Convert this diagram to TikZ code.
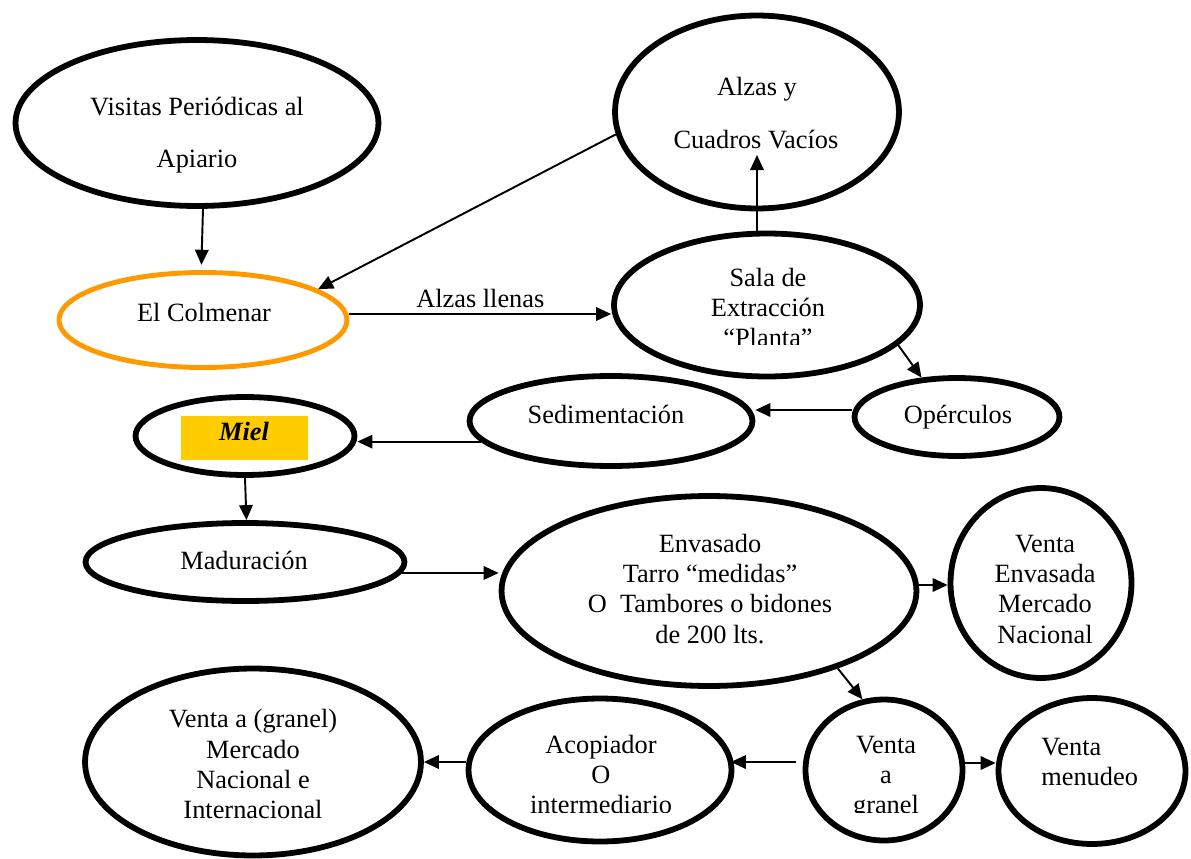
\documentclass[tikz,border=0pt]{standalone}
\usepackage{fontspec}
\setmainfont{Liberation Serif}
\usetikzlibrary{shapes.geometric,arrows.meta}
\definecolor{hiveorange}{RGB}{255,153,0}
\definecolor{honeyyellow}{RGB}{255,204,0}
\begin{document}
\begin{tikzpicture}[x=0.02cm,y=-0.02cm,
  ell/.style={ellipse,draw=black,line width=3.3pt,inner sep=0pt,fill=white},
  lbl/.style={anchor=base,inner sep=0pt,font=\fontsize{15}{18}\selectfont},
  arr/.style={line width=1.1pt,-{Triangle[length=0.30cm,width=0.27cm]}}]
\useasboundingbox (0,0) rectangle (1191,859);

% --- process stages (ellipses) ---
\node[ell,minimum width=7.26cm,minimum height=3.32cm] (visitas) at (197,123) {};
\node[ell,minimum width=5.68cm,minimum height=3.86cm] (alzas) at (757,112) {};
\node[ell,draw=hiveorange,line width=2.8pt,minimum width=5.76cm,minimum height=1.90cm] (colmenar) at (203,320) {};
\node[ell,minimum width=6.12cm,minimum height=2.86cm] (sala) at (767,305) {};
\node[ell,minimum width=4.10cm,minimum height=1.56cm] (operc) at (957,417) {};
\node[ell,minimum width=5.66cm,minimum height=1.80cm] (sedim) at (611,421) {};
\node[ell,minimum width=4.38cm,minimum height=1.56cm] (miel) at (245,436) {};
\node[ell,minimum width=6.38cm,minimum height=1.56cm] (madur) at (245,562) {};
\node[ell,minimum width=8.30cm,minimum height=3.80cm] (envas) at (709,591) {};
\node[ell,minimum width=3.62cm,minimum height=3.80cm] (venv) at (1041,583) {};
\node[ell,minimum width=6.72cm,minimum height=3.74cm] (vgm) at (253,762) {};
\node[ell,minimum width=5.26cm,minimum height=2.86cm] (acop) at (600,770) {};
\node[ell,minimum width=3.14cm,minimum height=2.82cm] (granel) at (884,770) {};
\node[ell,minimum width=3.74cm,minimum height=2.92cm] (menud) at (1092,771) {};

% honey highlight box
\node[fill=honeyyellow,inner sep=0pt,minimum width=2.54cm,minimum height=0.88cm] (mielbox) at (244.5,438) {};

% --- texts ---
\node[lbl] (t1a) at (197,115) {Visitas Periódicas al};
\node[lbl] (t1b) at (197,167) {Apiario};
\node[lbl] (t2a) at (757,95) {Alzas y};
\node[lbl] (t2b) at (756,148) {Cuadros Vacíos};
\node[lbl] (t3) at (204,321) {El Colmenar};
\node[lbl] (t4a) at (768,286) {Sala de};
\node[lbl] (t4b) at (768,316) {Extracción};
\begin{scope}
  \clip (650,320) rectangle (890,344);
  \node[lbl] (t4c) at (768,346) {“Planta”};
\end{scope}
\node[lbl] (t5) at (958,423) {Opérculos};
\node[lbl] (t6) at (606,423) {Sedimentación};
\node[lbl,font=\fontsize{15}{18}\selectfont\bfseries\itshape] (t7) at (244,440) {Miel};
\node[lbl] (t8) at (244,569) {Maduración};
\node[lbl] (t9a) at (710,552) {Envasado};
\node[lbl] (t9b) at (710,582) {Tarro “medidas”};
\node[lbl] (t9c) at (710,612) {O\ \ Tambores o bidones};
\node[lbl] (t9d) at (710,643) {de 200 lts.};
\node[lbl] (t10a) at (1045,552) {Venta};
\node[lbl] (t10b) at (1045,582) {Envasada};
\node[lbl] (t10c) at (1045,612) {Mercado};
\node[lbl] (t10d) at (1045,643) {Nacional};
\node[lbl] (t11a) at (253,727) {Venta a (granel)};
\node[lbl] (t11b) at (253,758) {Mercado};
\node[lbl] (t11c) at (253,788) {Nacional e};
\node[lbl] (t11d) at (253,818) {Internacional};
\node[lbl] (t12a) at (601,753) {Acopiador};
\node[lbl] (t12b) at (601,783) {O};
\begin{scope}
  \clip (500,790) rectangle (700,812);
  \node[lbl] (t12c) at (601,813) {intermediario};
\end{scope}
\node[lbl] (t13a) at (886,753) {Venta};
\node[lbl] (t13b) at (886,783) {a};
\begin{scope}
  \clip (820,790) rectangle (950,812);
  \node[lbl] (t13c) at (886,813) {granel};
\end{scope}
\node[lbl,anchor=base west] (t14a) at (1041,755) {Venta};
\node[lbl,anchor=base west] (t14b) at (1041,785) {menudeo};

% --- connectors ---
\coordinate (alzasin) at (757,155);
\draw[arr,shorten >=3pt] (visitas.-86) -- (colmenar.92);
\draw[arr] (alzas.189) -- (colmenar.15);
\draw[arr] ([yshift=0.12cm]colmenar.east) -- node[lbl,anchor=base,yshift=0.14cm] (t15) {Alzas llenas} ([yshift=0.12cm]colmenar.east -| sala.west);
\draw[arr] (alzasin |- sala.north) -- (alzasin);
\draw[arr] (sala.-17) -- (operc.132);
\draw[arr] ([yshift=0.14cm]operc.west) -- ([yshift=0.14cm]operc.west -| sedim.east);
\draw[arr] (sedim.189) -- (sedim.189 -| miel.east);
\draw[arr] (miel.-90) -- (madur.88);
\draw[arr] (madur.-4) -- (madur.-4 -| envas.west);
\draw[arr] ([yshift=0.12cm]envas.east) -- ([yshift=0.12cm]envas.east -| venv.west);
\draw[arr] (envas.-31) -- (granel.107);
\draw[arr,shorten <=4pt,shorten >=-2pt] ([yshift=0.16cm]granel.west) -- ([yshift=0.16cm]granel.west -| acop.east);
\draw[arr] ([yshift=0.16cm]acop.west) -- ([yshift=0.16cm]acop.west -| vgm.east);
\draw[arr] ([yshift=0.14cm]granel.east) -- ([yshift=0.14cm]granel.east -| menud.west);
\end{tikzpicture}
\end{document}
